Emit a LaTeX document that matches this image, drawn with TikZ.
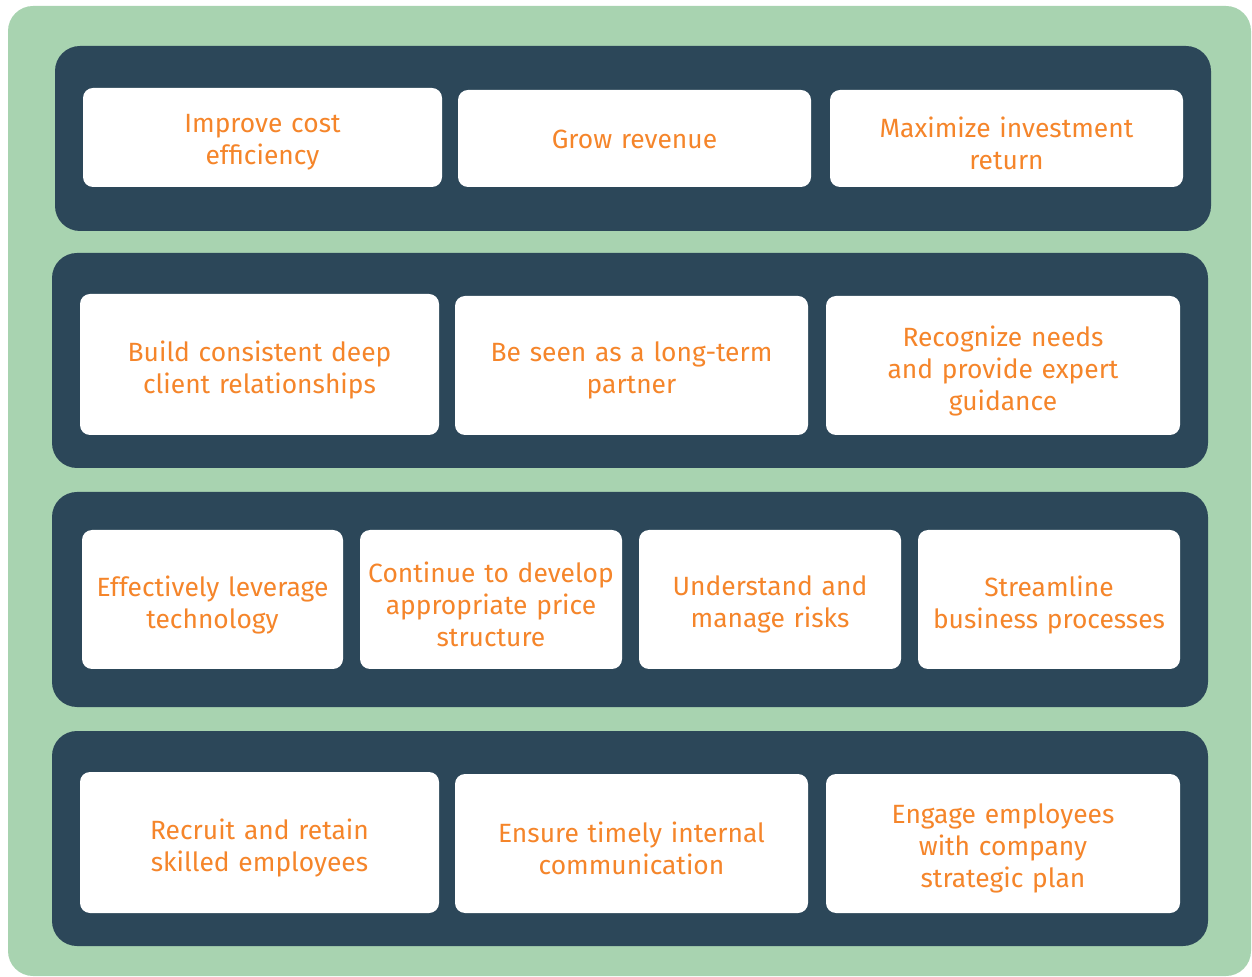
\documentclass[tikz,border=0pt]{standalone}
\usepackage{fontspec}
\setmainfont{Fira Sans}
\definecolor{bggreen}{HTML}{A8D3B0}
\definecolor{bandblue}{HTML}{2C4759}
\definecolor{txtorange}{HTML}{F5852A}
\begin{document}
\begin{tikzpicture}[x=0.5pt,y=-0.5pt,
  band/.style={fill=bandblue, draw=none, rounded corners=12.5pt, inner sep=0pt, minimum width=578pt, minimum height=107.5pt},
  wbox/.style={fill=white, draw=none, rounded corners=5pt, inner sep=0pt},
  txt/.style={text=txtorange, align=center, inner sep=0pt, yshift=-2.6pt,
    font=\fontsize{13.2pt}{16pt}\selectfont, text width=#1},
  txt/.default=172pt]
\useasboundingbox (0,0) rectangle (1252,977);
\fill[bggreen, rounded corners=12.5pt] (8,6) rectangle (1251,976);
% bands
\node[band, minimum height=92.5pt] (band1) at (633,138.5) {};
\node[band] (band2) at (630,360.5) {};
\node[band] (band3) at (630,599.5) {};
\node[band] (band4) at (630,838.5) {};
% row 1
\node[wbox, minimum width=179.5pt, minimum height=49.5pt] (b11) at (262.5,137.5) {};
\node[wbox, minimum width=176.5pt, minimum height=48.5pt] (b12) at (634.5,138.5) {};
\node[wbox, minimum width=176.5pt, minimum height=48.5pt] (b13) at (1006.5,138.5) {};
\node[txt] (t11) at (b11.center) {Improve cost\\efficiency};
\node[txt, yshift=2pt] (t12) at (b12.center) {Grow revenue};
\node[txt] (t13) at (b13.center) {Maximize investment\\return};
% row 2
\node[wbox, minimum width=179.5pt, minimum height=70.5pt] (b21) at (259.5,364.5) {};
\node[wbox, minimum width=176.5pt, minimum height=69.5pt] (b22) at (631.5,365.5) {};
\node[wbox, minimum width=177pt, minimum height=69.5pt] (b23) at (1003,365.5) {};
\node[txt] (t21) at (b21.center) {Build consistent deep\\client relationships};
\node[txt] (t22) at (b22.center) {Be seen as a long-term\\partner};
\node[txt] (t23) at (b23.center) {Recognize needs\\and provide expert\\guidance};
% row 3
\node[wbox, minimum width=130.5pt, minimum height=69.5pt] (b31) at (212.5,599.5) {};
\node[wbox, minimum width=131pt, minimum height=69.5pt] (b32) at (491,599.5) {};
\node[wbox, minimum width=131pt, minimum height=69.5pt] (b33) at (770,599.5) {};
\node[wbox, minimum width=131pt, minimum height=69.5pt] (b34) at (1049,599.5) {};
\node[txt=129pt] (t31) at (b31.center) {Effectively leverage\\technology};
\node[txt=129pt] (t32) at (b32.center) {Continue to develop\\appropriate price\\structure};
\node[txt=129pt] (t33) at (b33.center) {Understand and\\manage risks};
\node[txt=129pt] (t34) at (b34.center) {Streamline\\business processes};
% row 4
\node[wbox, minimum width=179.5pt, minimum height=70.5pt] (b41) at (259.5,842.5) {};
\node[wbox, minimum width=176.5pt, minimum height=69.5pt] (b42) at (631.5,843.5) {};
\node[wbox, minimum width=177pt, minimum height=69.5pt] (b43) at (1003,843.5) {};
\node[txt] (t41) at (b41.center) {Recruit and retain\\skilled employees};
\node[txt] (t42) at (b42.center) {Ensure timely internal\\communication};
\node[txt] (t43) at (b43.center) {Engage employees\\with company\\strategic plan};
\end{tikzpicture}
\end{document}
